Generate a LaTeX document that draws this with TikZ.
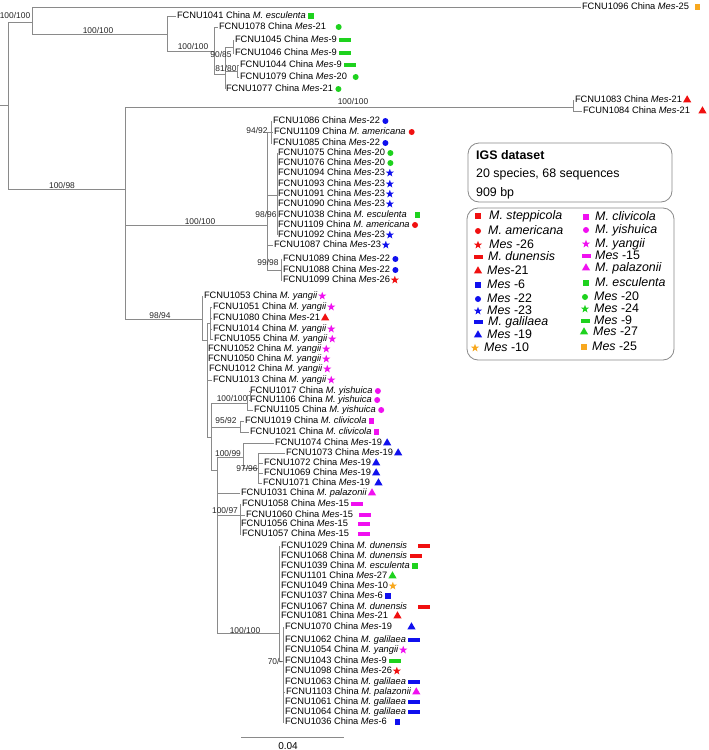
\documentclass[tikz,border=0pt]{standalone}
\usepackage{fontspec}
\setmainfont{Liberation Sans}
\usetikzlibrary{shapes.geometric,calc}
\definecolor{mred}{HTML}{F01010}
\definecolor{mgreen}{HTML}{1ED21E}
\definecolor{mblue}{HTML}{1010EE}
\definecolor{mmag}{HTML}{F010F0}
\definecolor{morange}{HTML}{F8A81E}
\definecolor{brgray}{HTML}{8A8A8A}
\newcommand\mesn[1]{\textit{Mes}-#1}
\newcommand\Lf[6]{\node[leaf] (l#1) at (#2,#3) {#4};
  \path let \p1=(l#1.east) in node[#5, anchor=west] (m#1) at ({max(\x1+1.2pt,(#6-4.5)*1pt)}, \y1) {};}
\newcommand\Lg[6]{\node[#4] (lm#1) at (#2,#3) {}; \node[lg] (lt#1) at (#5,#3) {#6};}
\tikzset{
 br/.style={draw=brgray, line width=0.7pt},
 leaf/.style={anchor=west, inner sep=0.8pt, font=\fontsize{9.3}{10}\selectfont, text height=6.6pt, text depth=1.6pt},
 bs/.style={inner sep=0pt, font=\fontsize{8.4}{9}\selectfont, text=black!85},
 msq/.style={rectangle, fill=#1, minimum size=5.5pt, inner sep=0pt},
 mcirc/.style={circle, fill=#1, minimum size=6pt, inner sep=0pt},
 mstar/.style={star, star points=5, star point ratio=2.5, fill=#1, minimum size=8.5pt, inner sep=0pt},
 mbar/.style={rectangle, fill=#1, minimum width=12pt, minimum height=4.6pt, inner sep=0pt},
 lbar/.style={rectangle, fill=#1, minimum width=9pt, minimum height=4pt, inner sep=0pt},
 mtri/.style={regular polygon, regular polygon sides=3, fill=#1, minimum size=9.5pt, inner sep=0pt},
 lg/.style={anchor=west, inner sep=0pt, font=\fontsize{12.4}{13}\selectfont, text height=9pt, text depth=2.5pt},
 lgbox/.style={draw=brgray, line width=0.8pt, rounded corners=11pt},
}
\begin{document}
\begin{tikzpicture}[x=1pt,y=-1pt]
\path[fill=white] (0,0) rectangle (709,750);
\useasboundingbox (0,0) rectangle (709,750);
% ---- leaves
\Lf{1096}{581}{7}{FCNU1096 China \mesn{25}}{msq=morange}{699}
\Lf{1041}{176}{16}{FCNU1041 China \textit{M. esculenta}}{msq=mgreen}{311}
\Lf{1078}{218}{27}{FCNU1078 China \mesn{21}}{mcirc=mgreen}{340}
\Lf{1045}{234}{40}{FCNU1045 China \mesn{9}}{mbar=mgreen}{343}
\Lf{1046}{234}{53}{FCNU1046 China \mesn{9}}{mbar=mgreen}{343}
\Lf{1044}{239}{65}{FCNU1044 China \mesn{9}}{mbar=mgreen}{344}
\Lf{1079}{239}{77}{FCNU1079 China \mesn{20}}{mcirc=mgreen}{357}
\Lf{1077}{225}{89}{FCNU1077 China \mesn{21}}{mcirc=mgreen}{332}
\Lf{1083}{574}{100}{FCNU1083 China \mesn{21}}{mtri=mred}{685}
\Lf{1084}{582}{111}{FCUN1084 China \mesn{21}}{mtri=mred}{704}
\Lf{1086}{272}{121}{FCNU1086 China \mesn{22}}{mcirc=mblue}{380}
\Lf{1109a}{273}{132}{FCNU1109 China \textit{M. americana}}{mcirc=mred}{413}
\Lf{1085}{272}{143}{FCNU1085 China \mesn{22}}{mcirc=mblue}{378}
\Lf{1075}{277}{153}{FCNU1075 China \mesn{20}}{mcirc=mgreen}{382}
\Lf{1076}{277}{163}{FCNU1076 China \mesn{20}}{mcirc=mgreen}{388}
\Lf{1094}{277}{173}{FCNU1094 China \mesn{23}}{mstar=mblue}{388}
\Lf{1093}{277}{184}{FCNU1093 China \mesn{23}}{mstar=mblue}{384}
\Lf{1091}{277}{194}{FCNU1091 China \mesn{23}}{mstar=mblue}{389}
\Lf{1090}{277}{204}{FCNU1090 China \mesn{23}}{mstar=mblue}{389}
\Lf{1038}{277}{215}{FCNU1038 China \textit{M. esculenta}}{msq=mgreen}{419}
\Lf{1109b}{277}{225}{FCNU1109 China \textit{M. americana}}{mcirc=mred}{416}
\Lf{1092}{277}{235}{FCNU1092 China \mesn{23}}{mstar=mblue}{383}
\Lf{1087}{273}{245}{FCNU1087 China \mesn{23}}{mstar=mblue}{379}
\Lf{1089}{282}{259}{FCNU1089 China \mesn{22}}{mcirc=mblue}{387}
\Lf{1088}{282}{270}{FCNU1088 China \mesn{22}}{mcirc=mblue}{388}
\Lf{1099}{282}{280}{FCNU1099 China \mesn{26}}{mstar=mred}{391}
\Lf{1053}{203}{296}{FCNU1053 China \textit{M. yangii}}{mstar=mmag}{316}
\Lf{1051}{212}{307}{FCNU1051 China \textit{M. yangii}}{mstar=mmag}{323}
\Lf{1080}{212}{318}{FCNU1080 China \mesn{21}}{mtri=mred}{322}
\Lf{1014}{212}{329}{FCNU1014 China \textit{M. yangii}}{mstar=mmag}{325}
\Lf{1055}{213}{339}{FCNU1055 China \textit{M. yangii}}{mstar=mmag}{325}
\Lf{1052}{207}{349}{FCNU1052 China \textit{M. yangii}}{mstar=mmag}{322}
\Lf{1050}{207}{359}{FCNU1050 China \textit{M. yangii}}{mstar=mmag}{319}
\Lf{1012}{208}{369}{FCNU1012 China \textit{M. yangii}}{mstar=mmag}{325}
\Lf{1013}{212}{380}{FCNU1013 China \textit{M. yangii}}{mstar=mmag}{323}
\Lf{1017}{249}{391}{FCNU1017 China \textit{M. yishuica}}{mcirc=mmag}{370}
\Lf{1106}{249}{400}{FCNU1106 China \textit{M. yishuica}}{mcirc=mmag}{367}
\Lf{1105}{253}{410}{FCNU1105 China \textit{M. yishuica}}{mcirc=mmag}{373}
\Lf{1019}{244}{421}{FCNU1019 China \textit{M. clivicola}}{msq=mmag}{370}
\Lf{1021}{249}{432}{FCNU1021 China \textit{M. clivicola}}{msq=mmag}{374}
\Lf{1074}{274}{443}{FCNU1074 China \mesn{19}}{mtri=mblue}{385}
\Lf{1073}{285}{453}{FCNU1073 China \mesn{19}}{mtri=mblue}{396}
\Lf{1072}{263}{463}{FCNU1072 China \mesn{19}}{mtri=mblue}{370}
\Lf{1069}{263}{473}{FCNU1069 China \mesn{19}}{mtri=mblue}{375}
\Lf{1071}{262}{483}{FCNU1071 China \mesn{19}}{mtri=mblue}{380}
\Lf{1031}{240}{493}{FCNU1031 China \textit{M. palazonii}}{mtri=mmag}{373}
\Lf{1058}{241}{504}{FCNU1058 China \mesn{15}}{mbar=mmag}{354}
\Lf{1060}{245}{515}{FCNU1060 China \mesn{15}}{mbar=mmag}{363}
\Lf{1056}{240}{524}{FCNU1056 China \mesn{15}}{mbar=mmag}{362}
\Lf{1057}{241}{534}{FCNU1057 China \mesn{15}}{mbar=mmag}{362}
\Lf{1029}{280}{546}{FCNU1029 China \textit{M. dunensis}}{mbar=mred}{422}
\Lf{1068}{280}{556}{FCNU1068 China \textit{M. dunensis}}{mbar=mred}{414}
\Lf{1039}{280}{566}{FCNU1039 China \textit{M. esculenta}}{msq=mgreen}{414}
\Lf{1101}{280}{576}{FCNU1101 China \mesn{27}}{mtri=mgreen}{394}
\Lf{1049}{280}{586}{FCNU1049 China \mesn{10}}{mstar=morange}{392}
\Lf{1037}{280}{596}{FCNU1037 China \mesn{6}}{msq=mblue}{387}
\Lf{1067}{280}{607}{FCNU1067 China \textit{M. dunensis}}{mbar=mred}{422}
\Lf{1081}{280}{616}{FCNU1081 China \mesn{21}}{mtri=mred}{399}
\Lf{1070}{284}{627}{FCNU1070 China \mesn{19}}{mtri=mblue}{413}
\Lf{1062}{284}{640}{FCNU1062 China \textit{M. galilaea}}{mbar=mblue}{409}
\Lf{1054}{284}{650}{FCNU1054 China \textit{M. yangii}}{mstar=mmag}{396}
\Lf{1043}{284}{661}{FCNU1043 China \mesn{9}}{mbar=mgreen}{390}
\Lf{1098}{284}{671}{FCNU1098 China \mesn{26}}{mstar=mred}{390}
\Lf{1063}{284}{682}{FCNU1063 China \textit{M. galilaea}}{mbar=mblue}{405}
\Lf{1103}{285}{692}{FCNU1103 China \textit{M. palazonii}}{mtri=mmag}{413}
\Lf{1061}{284}{702}{FCNU1061 China \textit{M. galilaea}}{mbar=mblue}{407}
\Lf{1064}{284}{712}{FCNU1064 China \textit{M. galilaea}}{mbar=mblue}{407}
\Lf{1036}{284}{722}{FCNU1036 China \mesn{6}}{msq=mblue}{399}
% ---- internal nodes
\coordinate (R0) at (0,105); \coordinate (R) at (8,105);
\coordinate (A) at (32,22); \coordinate (B) at (167,34); \coordinate (C) at (214,51);
\coordinate (D) at (225,74); \coordinate (E) at (233,47); \coordinate (F) at (237,71);
\coordinate (G) at (125,189); \coordinate (H) at (573,107); \coordinate (M) at (267,225);
\coordinate (N1) at (271,132); \coordinate (N2) at (277,195); \coordinate (N3) at (281,270);
\coordinate (L0) at (202,319); \coordinate (L1) at (207,340); \coordinate (S) at (210,323);
\coordinate (L2) at (211,437); \coordinate (Y) at (247,403); \coordinate (Y2) at (250,395);
\coordinate (CL) at (240,427); \coordinate (L3) at (217,470); \coordinate (P) at (243,457);
\coordinate (N97) at (258,468); \coordinate (Q) at (240,515); \coordinate (BIG) at (279,633);
\coordinate (Z) at (283,661);
% ---- branches
\draw[br] (R0) -- (R);
\draw[br] (R) |- (A); \draw[br] (R) |- (G);
\draw[br] (A) |- (l1096.west); \draw[br] (A) |- (B);
\draw[br] (B) |- (l1041.west); \draw[br] (B) |- (C);
\draw[br] (C) |- (l1078.west); \draw[br] (C) |- (D);
\draw[br] (D) |- (E); \draw[br] (D) |- (F); \draw[br] (D) |- (l1077.west);
\draw[br] (E) |- (l1045.west); \draw[br] (E) |- (l1046.west);
\draw[br] (F) |- (l1044.west); \draw[br] (F) |- (l1079.west);
\draw[br] (G) |- (H); \draw[br] (G) |- (M); \draw[br] (G) |- (L0);
\draw[br] (H) |- (l1083.west); \draw[br] (H) |- (l1084.west);
\draw[br] (M) |- (N1); \draw[br] (M) |- (N2); \draw[br] (M) |- (l1087.west); \draw[br] (M) |- (N3);
\foreach \c in {1086,1109a,1085} \draw[br] (N1) |- (l\c.west);
\foreach \c in {1075,1076,1094,1093,1091,1090,1038,1109b,1092} \draw[br] (N2) |- (l\c.west);
\foreach \c in {1089,1088,1099} \draw[br] (N3) |- (l\c.west);
\draw[br] (L0) |- (l1053.west); \draw[br] (L0) |- (L1);
\draw[br] (L1) |- (S); \draw[br] (L1) |- (L2);
\foreach \c in {1052,1050,1012,1013} \draw[br] (L1) |- (l\c.west);
\foreach \c in {1051,1080,1014,1055} \draw[br] (S) |- (l\c.west);
\draw[br] (L2) |- (Y); \draw[br] (L2) |- (CL); \draw[br] (L2) |- (L3);
\draw[br] (Y) |- (Y2); \draw[br] (Y) |- (l1105.west);
\draw[br] (Y2) |- (l1017.west); \draw[br] (Y2) |- (l1106.west);
\draw[br] (CL) |- (l1019.west); \draw[br] (CL) |- (l1021.west);
\draw[br] (L3) |- (P); \draw[br] (L3) |- (l1031.west); \draw[br] (L3) |- (Q); \draw[br] (L3) |- (BIG);
\draw[br] (P) |- (l1074.west); \draw[br] (P) |- (N97);
\foreach \c in {1073,1072,1069,1071} \draw[br] (N97) |- (l\c.west);
\foreach \c in {1058,1060,1056,1057} \draw[br] (Q) |- (l\c.west);
\foreach \c in {1029,1068,1039,1101,1049,1037,1067,1081} \draw[br] (BIG) |- (l\c.west);
\draw[br] (BIG) |- (Z);
\foreach \c in {1070,1062,1054,1043,1098,1063,1103,1061,1064,1036} \draw[br] (Z) |- (l\c.west);
% ---- support values
\node[bs] (b1) at (15,15) {100/100};
\node[bs] (b2) at (98,30) {100/100};
\node[bs] (b3) at (193,46) {100/100};
\node[bs] (b4) at (221,54) {90/85};
\node[bs] (b5) at (226,68) {81/80};
\node[bs] (b6) at (62,185) {100/98};
\node[bs] (b7) at (353,101) {100/100};
\node[bs] (b8) at (200,221) {100/100};
\node[bs] (b9) at (257,130) {94/92};
\node[bs] (b10) at (266,214) {98/96};
\node[bs] (b11) at (268,262) {99/98};
\node[bs] (b12) at (160,315) {98/94};
\node[bs] (b13) at (232,398) {100/100};
\node[bs] (b14) at (226,420) {95/92};
\node[bs] (b15) at (228,453) {100/99};
\node[bs] (b16) at (247,468) {97/96};
\node[bs] (b17) at (225,510) {100/97};
\node[bs] (b18) at (245,630) {100/100};
\node[bs] (b19) at (275,661) {70/-};
% ---- scale bar
\coordinate (sb1) at (241,737); \coordinate (sb2) at (344,737);
\draw[br] (sb1) -- (sb2);
\node[inner sep=0pt, font=\fontsize{10}{11}\selectfont] (sbl) at (288,746) {0.04};
% ---- legend
\draw[lgbox] (468,143) rectangle (672,202);
\node[lg] (lg1) at (476,156) {\textbf{IGS dataset}};
\node[lg] (lg2) at (476,174) {20 species, 68 sequences};
\node[lg] (lg3) at (476,193) {909 bp};
\draw[lgbox] (467,208) rectangle (674,360);
\Lg{a1}{478}{216}{msq=mred}{489}{\textit{M. steppicola}}
\Lg{a2}{478}{231}{mcirc=mred}{488}{\textit{M. americana}}
\Lg{a3}{478}{245}{mstar=mred}{489}{\textit{Mes} -26}
\Lg{a4}{478}{257}{lbar=mred}{488}{\textit{M. dunensis}}
\Lg{a5}{478}{271}{mtri=mred}{487}{\textit{Mes}-21}
\Lg{a6}{478}{285}{msq=mblue}{487}{\textit{Mes} -6}
\Lg{a7}{478}{299}{mcirc=mblue}{487}{\textit{Mes} -22}
\Lg{a8}{478}{311}{mstar=mblue}{487}{\textit{Mes} -23}
\Lg{a9}{478}{322}{lbar=mblue}{488}{\textit{M. galilaea}}
\Lg{a10}{478}{335}{mtri=mblue}{487}{\textit{Mes} -19}
\Lg{a11}{475}{348}{mstar=morange}{484}{\textit{Mes} -10}
\Lg{b1}{586}{217}{msq=mmag}{595}{\textit{M. clivicola}}
\Lg{b2}{586}{230}{mcirc=mmag}{595}{\textit{M. yishuica}}
\Lg{b3}{586}{244}{mstar=mmag}{595}{\textit{M. yangii}}
\Lg{b4}{586}{256}{lbar=mmag}{595}{\textit{Mes} -15}
\Lg{b5}{586}{268}{mtri=mmag}{595}{\textit{M. palazonii}}
\Lg{b6}{586}{283}{msq=mgreen}{595}{\textit{M. esculenta}}
\Lg{b7}{585}{297}{mcirc=mgreen}{594}{\textit{Mes} -20}
\Lg{b8}{585}{309}{mstar=mgreen}{594}{\textit{Mes} -24}
\Lg{b9}{585}{321}{lbar=mgreen}{594}{\textit{Mes} -9}
\Lg{b10}{584}{332}{mtri=mgreen}{593}{\textit{Mes} -27}
\Lg{b11}{584}{347}{msq=morange}{592}{\textit{Mes} -25}
\end{tikzpicture}
\end{document}
